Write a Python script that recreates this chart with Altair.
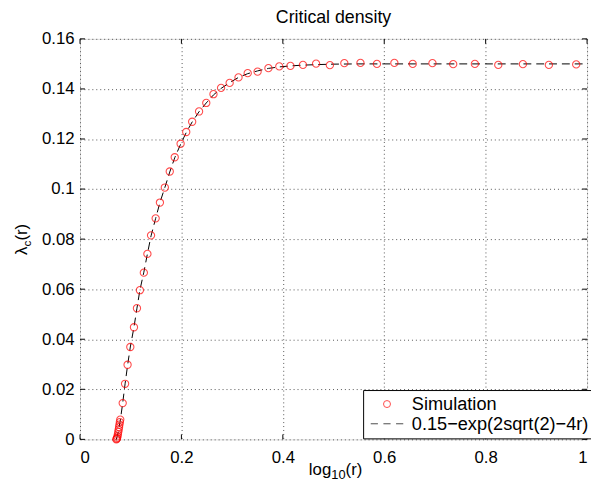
import altair as alt
import pandas as pd

# ---- data ----
sim_x = [0.0716, 0.0724, 0.0732, 0.0739, 0.0747, 0.0755, 0.0763, 0.0770, 0.0778, 0.0786, 0.0794,
         0.0842, 0.0889, 0.0938, 0.0992, 0.1064, 0.1123, 0.1181, 0.1259, 0.1329, 0.1401,
         0.1492, 0.1576, 0.1673, 0.1770, 0.1868, 0.1984, 0.2095, 0.2212, 0.2348, 0.2490,
         0.2632, 0.2782, 0.2951, 0.3126, 0.3307, 0.3502, 0.3716, 0.3930, 0.4150, 0.4397,
         0.4656, 0.4928, 0.5213, 0.5531, 0.5856, 0.6200, 0.6562, 0.6951, 0.7360, 0.7788,
         0.8249, 0.8735, 0.9247, 0.9786]
sim_y = [0.0000, 0.0002, 0.0006, 0.0012, 0.0020, 0.0030, 0.0039, 0.0049, 0.0059, 0.0069, 0.0079,
         0.0145, 0.0222, 0.0298, 0.0369, 0.0448, 0.0524, 0.0596, 0.0666, 0.0741, 0.0815,
         0.0883, 0.0946, 0.1006, 0.1070, 0.1127, 0.1181, 0.1228, 0.1269, 0.1310, 0.1344,
         0.1379, 0.1404, 0.1424, 0.1446, 0.1463, 0.1469, 0.1483, 0.1490, 0.1492, 0.1496,
         0.1501, 0.1495, 0.1503, 0.1504, 0.1500, 0.1504, 0.1500, 0.1503, 0.1499, 0.1500,
         0.1496, 0.1499, 0.1496, 0.1498]

curve_x = [0.0716, 0.0750, 0.0790, 0.0842, 0.0889, 0.0940, 0.0992, 0.1064, 0.1123, 0.1181,
           0.1259, 0.1329, 0.1401, 0.1492, 0.1576, 0.1673, 0.1770, 0.1868, 0.1984, 0.2095,
           0.2212, 0.2348, 0.2490, 0.2632, 0.2782, 0.2951, 0.3126, 0.3307, 0.3502, 0.3716,
           0.3930, 0.4150, 0.4397, 0.4656, 0.5000, 0.5500, 0.6000, 0.7000, 0.8000, 0.9000, 1.0000]
curve_y = [0.0000, 0.0025, 0.0070, 0.0145, 0.0222, 0.0298, 0.0369, 0.0448, 0.0524, 0.0596,
           0.0668, 0.0741, 0.0813, 0.0883, 0.0946, 0.1006, 0.1068, 0.1125, 0.1179, 0.1226,
           0.1268, 0.1309, 0.1344, 0.1376, 0.1402, 0.1425, 0.1446, 0.1461, 0.1472, 0.1482,
           0.1488, 0.1492, 0.1495, 0.1497, 0.1499, 0.1500, 0.1500, 0.1500, 0.1500, 0.1500, 0.1500]

x_ticks = [0, 0.2, 0.4, 0.6, 0.8, 1.0]
y_ticks = [0, 0.02, 0.04, 0.06, 0.08, 0.1, 0.12, 0.14, 0.16]
series_names = ["Simulation", "0.15\u2212exp(2sqrt(2)\u22124r)"]
chart_title = "Critical density"

# ---- layout / style ----
W, H = 514, 406
FONT = "Liberation Sans"
TICK_FS = 17
TL = 5  # inward tick length

sim_df = pd.DataFrame({"r": sim_x, "lam": sim_y, "series": series_names[0]})
curve_df = pd.DataFrame({"r": curve_x, "lam": curve_y})
xt_df = pd.DataFrame({"t": x_ticks})
yt_df = pd.DataFrame({"t": y_ticks})

xscale = alt.Scale(domain=[0, 1], nice=False, zero=False)
yscale = alt.Scale(domain=[0, 0.16], nice=False, zero=False)

main_x = alt.Axis(orient="bottom", values=x_ticks, labelExpr="format(datum.value, '~g')",
                  grid=True, gridDash=[1, 3], gridColor="#555", gridWidth=1,
                  ticks=False, domain=False, title=None,
                  labelFont=FONT, labelFontSize=TICK_FS, labelColor="black", labelPadding=10)
main_y = alt.Axis(orient="left", values=y_ticks, labelExpr="format(datum.value, '~g')",
                  grid=True, gridDash=[1, 3], gridColor="#555", gridWidth=1,
                  ticks=False, domain=False, title=None,
                  labelFont=FONT, labelFontSize=TICK_FS, labelColor="black", labelPadding=6,
                  labelBaseline="middle")

line = alt.Chart(curve_df).mark_line(color="black", strokeDash=[8, 5], strokeWidth=1).encode(
    x=alt.X("r:Q", scale=xscale, axis=main_x),
    y=alt.Y("lam:Q", scale=yscale, axis=main_y),
)

dash_path = "M-4.66,0L-2.6,0M-1.03,0L1.03,0M2.6,0L4.66,0"
legend_cfg = dict(title=None, orient="none", legendX=287, legendY=356,
                  labelFont=FONT, labelFontSize=18.4, labelColor="black", labelLimit=400,
                  symbolSize=50, symbolStrokeWidth=1, symbolOffset=10, labelOffset=16,
                  padding=5, rowPadding=1, strokeColor="black", fillColor="white",
                  cornerRadius=0)

points = alt.Chart(sim_df).mark_point(filled=False, size=54, strokeWidth=1.1).encode(
    x=alt.X("r:Q", scale=xscale, axis=main_x),
    y=alt.Y("lam:Q", scale=yscale, axis=main_y),
    color=alt.Color("series:N", scale=alt.Scale(domain=series_names, range=["#ff0000", "#000000"]),
                    legend=alt.Legend(**legend_cfg)),
    shape=alt.Shape("series:N", scale=alt.Scale(domain=series_names, range=["circle", dash_path]),
                    legend=alt.Legend(**legend_cfg)),
)

# inward tick marks on all four sides, drawn at the tick values
tick_style = dict(color="black", strokeWidth=1)
tb = alt.Chart(xt_df).mark_rule(**tick_style).encode(
    x=alt.X("t:Q", scale=xscale, axis=main_x), y=alt.value(H), y2=alt.value(H - TL))
tt = alt.Chart(xt_df).mark_rule(**tick_style).encode(
    x=alt.X("t:Q", scale=xscale, axis=main_x), y=alt.value(0), y2=alt.value(TL))
tl = alt.Chart(yt_df).mark_rule(**tick_style).encode(
    y=alt.Y("t:Q", scale=yscale, axis=main_y), x=alt.value(0), x2=alt.value(TL))
tr = alt.Chart(yt_df).mark_rule(**tick_style).encode(
    y=alt.Y("t:Q", scale=yscale, axis=main_y), x=alt.value(W), x2=alt.value(W - TL))

one = alt.Data(values=[{}])

def label(txt, x, y, size=17, angle=0, align="left"):
    return alt.Chart(one).mark_text(text=txt, font=FONT, fontSize=size, color="black",
                                    align=align, baseline="alphabetic", angle=angle).encode(
        x=alt.value(x), y=alt.value(y))

title_mark = label(chart_title, W / 2, -16, 18, 0, "center")
# y-axis title  λ_c(r)  (rotated)
yt1 = label("\u03bb", -54, 219, 17, 270)
yt2 = label("c", -50, 210.5, 12, 270)
yt3 = label("(r)", -54, 204.5, 17, 270)
# x-axis title  log_10(r)
xt1 = label("log", 232, 442, 17)
xt2 = label("10", 254.7, 446, 13)
xt3 = label("(r)", 269.2, 442, 17)

chart = alt.layer(line, points, tb, tt, tl, tr, title_mark, yt1, yt2, yt3, xt1, xt2, xt3).properties(
    width=W, height=H,
    autosize=alt.AutoSizeParams(type="none"),
    padding={"left": 73, "top": 28, "right": 4, "bottom": 45},
).configure_view(stroke="black", strokeWidth=1).configure(background="white")

chart.save("out.html", embed_options={"renderer": "svg", "actions": False})
